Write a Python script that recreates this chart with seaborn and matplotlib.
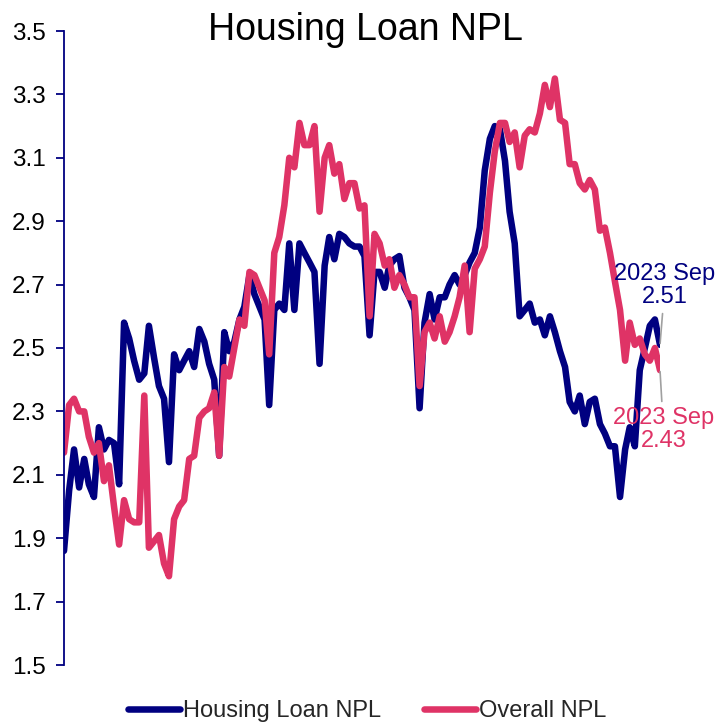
import numpy as np
import pandas as pd
import matplotlib
matplotlib.use("Agg")
import matplotlib.pyplot as plt
import seaborn as sns
from matplotlib.lines import Line2D

# ---- data ----
housing_npl = [
    1.86, 2.05, 2.18, 2.06, 2.15, 2.07, 2.03, 2.25, 2.18, 2.21,
    2.20, 2.07, 2.58, 2.53, 2.46, 2.40, 2.42, 2.57, 2.47, 2.38,
    2.34, 2.14, 2.48, 2.43, 2.46, 2.49, 2.44, 2.56, 2.52, 2.45,
    2.40, 2.16, 2.55, 2.49, 2.52, 2.59, 2.63, 2.73, 2.67, 2.63,
    2.59, 2.32, 2.62, 2.64, 2.62, 2.83, 2.62, 2.83, 2.80, 2.77,
    2.74, 2.45, 2.76, 2.85, 2.78, 2.86, 2.85, 2.83, 2.82, 2.82,
    2.79, 2.54, 2.74, 2.74, 2.69, 2.76, 2.78, 2.79, 2.69, 2.66,
    2.62, 2.31, 2.58, 2.67, 2.59, 2.66, 2.66, 2.70, 2.73, 2.70,
    2.73, 2.77, 2.80, 2.88, 3.06, 3.16, 3.20, 3.19, 3.09, 2.93,
    2.83, 2.60, 2.62, 2.64, 2.58, 2.59, 2.54, 2.60, 2.55, 2.49,
    2.44, 2.33, 2.30, 2.35, 2.26, 2.33, 2.34, 2.26, 2.23, 2.19,
    2.19, 2.03, 2.18, 2.25, 2.19, 2.43, 2.50, 2.57, 2.59, 2.51,
]
overall_npl = [
    2.17, 2.32, 2.34, 2.30, 2.30, 2.22, 2.17, 2.20, 2.08, 2.13,
    2.00, 1.88, 2.02, 1.96, 1.95, 1.95, 2.35, 1.87, 1.89, 1.91,
    1.82, 1.78, 1.96, 2.00, 2.02, 2.15, 2.16, 2.28, 2.30, 2.31,
    2.36, 2.16, 2.44, 2.41, 2.50, 2.59, 2.57, 2.74, 2.73, 2.69,
    2.65, 2.48, 2.80, 2.85, 2.95, 3.10, 3.07, 3.21, 3.14, 3.14,
    3.20, 2.93, 3.10, 3.14, 3.05, 3.08, 2.97, 3.02, 3.02, 2.94,
    2.95, 2.60, 2.86, 2.83, 2.76, 2.78, 2.69, 2.73, 2.70, 2.66,
    2.66, 2.38, 2.55, 2.58, 2.53, 2.60, 2.52, 2.55, 2.60, 2.66,
    2.76, 2.55, 2.75, 2.78, 2.82, 2.99, 3.12, 3.21, 3.21, 3.15,
    3.18, 3.07, 3.17, 3.19, 3.18, 3.24, 3.33, 3.26, 3.35, 3.22,
    3.21, 3.08, 3.08, 3.02, 3.00, 3.03, 3.00, 2.87, 2.88, 2.80,
    2.71, 2.62, 2.46, 2.58, 2.51, 2.53, 2.48, 2.46, 2.50, 2.43,
]
dates = pd.date_range(end="2023-09-01", periods=len(housing_npl), freq="MS")
series_names = ["Housing Loan NPL", "Overall NPL"]
y_ticks = [1.5, 1.7, 1.9, 2.1, 2.3, 2.5, 2.7, 2.9, 3.1, 3.3, 3.5]
title = "Housing Loan NPL"
last_label = "2023 Sep"

NAVY = "#000080"
PINK = "#DF3366"
LW = 4.7

df = pd.DataFrame({
    "date": np.concatenate([dates, dates]),
    "value": housing_npl + overall_npl,
    "series": [series_names[0]] * len(dates) + [series_names[1]] * len(dates),
})

sns.set_theme(style="white")
plt.rcParams["font.family"] = ["Liberation Sans", "DejaVu Sans"]

fig = plt.figure(figsize=(7.16, 7.22), dpi=100)
ax = fig.add_axes([64 / 716, 1 - 665 / 722, (660 - 64) / 716, (665 - 31) / 722])

sns.lineplot(data=df, x="date", y="value", hue="series",
             palette={series_names[0]: NAVY, series_names[1]: PINK},
             linewidth=LW, ax=ax, legend=False)
for ln in ax.get_lines():
    ln.set_solid_joinstyle("round")
    ln.set_solid_capstyle("round")

ax.set_xlim(dates[0], dates[-1])
ax.set_ylim(1.5, 3.5)
ax.set_yticks(y_ticks)
ax.set_yticklabels([f"{t:.1f}" for t in y_ticks])
ax.set_xticks([])
ax.set_xlabel("")
ax.set_ylabel("")
for s in ["top", "right", "bottom"]:
    ax.spines[s].set_visible(False)
ax.spines["left"].set_color(NAVY)
ax.spines["left"].set_linewidth(1.3)
ax.tick_params(axis="y", which="major", direction="out", length=6, width=1.3,
               color=NAVY, labelsize=17.5, labelcolor="black", pad=7, left=True)

fig.text(365 / 716, 1 - 30 / 722, title, ha="center", va="center", fontsize=27, color="black")

# annotations for last points
ax.annotate(f"{last_label}\n{housing_npl[-1]:.2f}", xy=(dates[-1], housing_npl[-1]),
            xytext=(3.5, 43), textcoords="offset points", ha="center", va="center",
            fontsize=17, color=NAVY, linespacing=1.05, annotation_clip=False,
            arrowprops=dict(arrowstyle="-", color="#A0A0A0", lw=1.2, shrinkA=2, shrinkB=1))
ax.annotate(f"{last_label}\n{overall_npl[-1]:.2f}", xy=(dates[-1], overall_npl[-1]),
            xytext=(2.5, -43), textcoords="offset points", ha="center", va="center",
            fontsize=17, color=PINK, linespacing=1.05, annotation_clip=False,
            arrowprops=dict(arrowstyle="-", color="#A0A0A0", lw=1.2, shrinkA=2, shrinkB=1))

handles = [Line2D([0], [0], color=NAVY, lw=LW, solid_capstyle="round"),
           Line2D([0], [0], color=PINK, lw=LW, solid_capstyle="round")]
fig.legend(handles, series_names, loc="center", bbox_to_anchor=(0.513, 1 - 711 / 722),
           ncol=2, frameon=False, fontsize=17, handlelength=2.2, handletextpad=0.15,
           columnspacing=1.8, borderaxespad=0)

fig.savefig("out.png", dpi=100)
